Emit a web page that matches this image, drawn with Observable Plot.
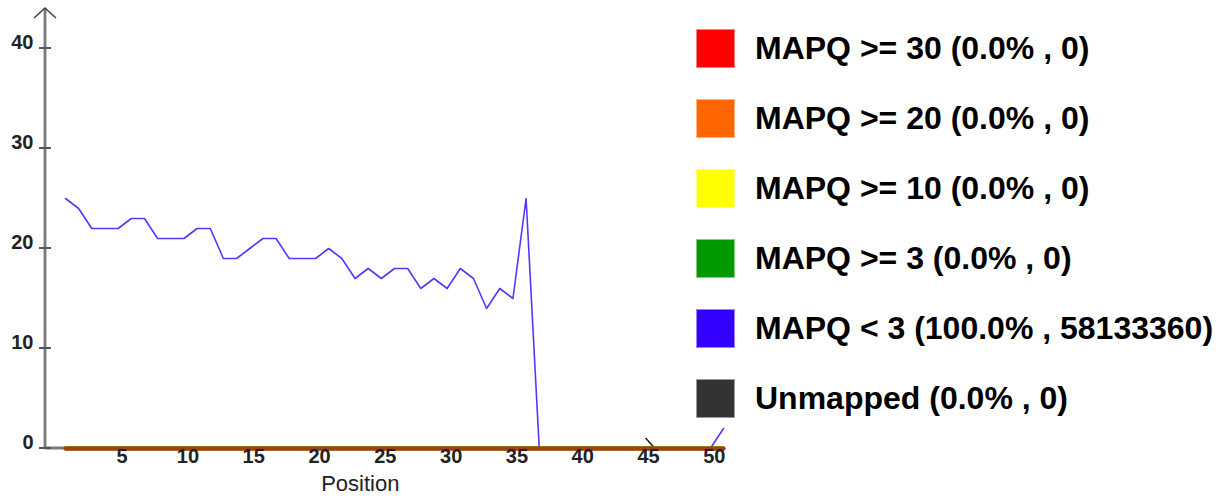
<!DOCTYPE html>
<html>
<head>
<meta charset="utf-8">
<script src="https://cdn.jsdelivr.net/npm/d3@7"></script>
<script src="https://cdn.jsdelivr.net/npm/@observablehq/plot@0.6"></script>
<style>
  html, body { margin: 0; padding: 0; background: #fff; }
  body { width: 1216px; height: 502px; position: relative; overflow: hidden; font-family: "Liberation Sans", Arial, sans-serif; }
  #chart { position: absolute; left: 0; top: 0; }
  #legend { position: absolute; left: 696px; top: 28px; }
  .row { display: flex; align-items: center; height: 40px; margin-bottom: 30px; }
  .sw { width: 39px; height: 39px; box-sizing: border-box; border: 1px solid rgba(255,255,255,0.5); margin-right: 20px; }
  .lab { font-size: 32px; font-weight: bold; color: #000; white-space: nowrap; }
</style>
</head>
<body>
<div id="chart"></div>
<div id="legend"></div>
<script>
// ---- data ----
const positions = [1,2,3,4,5,6,7,8,9,10,11,12,13,14,15,16,17,18,19,20,21,22,23,24,25,26,27,28,29,30,31,32,33,34,35,36,37,38,39,40,41,42,43,44,45,46,47,48,49,50,51];
const mapqLt3   = [25,24,22,22,22,23,23,21,21,21,22,22,19,19,20,21,21,19,19,19,20,19,17,18,17,18,18,16,17,16,18,17,14,16,15,25,0,0,0,0,0,0,0,0,0,0,0,0,0,0,2];
const mapqGe30  = [0,0,0,0,0,0,0,0,0,0,0,0,0,0,0,0,0,0,0,0,0,0,0,0,0,0,0,0,0,0,0,0,0,0,0,0,0,0,0,0,0,0,0,0,0,0,0,0,0,0,0];
const mapqGe20  = [0,0,0,0,0,0,0,0,0,0,0,0,0,0,0,0,0,0,0,0,0,0,0,0,0,0,0,0,0,0,0,0,0,0,0,0,0,0,0,0,0,0,0,0,0,0,0,0,0,0,0];
const mapqGe10  = [0,0,0,0,0,0,0,0,0,0,0,0,0,0,0,0,0,0,0,0,0,0,0,0,0,0,0,0,0,0,0,0,0,0,0,0,0,0,0,0,0,0,0,0,0,0,0,0,0,0,0];
const mapqGe3   = [0,0,0,0,0,0,0,0,0,0,0,0,0,0,0,0,0,0,0,0,0,0,0,0,0,0,0,0,0,0,0,0,0,0,0,0,0,0,0,0,0,0,0,0,0,0,0,0,0,0,0];
const unmapped  = [0,0,0,0,0,0,0,0,0,0,0,0,0,0,0,0,0,0,0,0,0,0,0,0,0,0,0,0,0,0,0,0,0,0,0,0,0,0,0,0,0,0,0,0,0,0,0,0,0,0,0];

const xTicks = [5,10,15,20,25,30,35,40,45,50];
const yTicks = [0,10,20,30,40];
const xAxisEnd = 45.8;   // where the drawn x-axis arrow sits
const xLabel = "Position";

const legendLabels = [
  "MAPQ >= 30 (0.0% , 0)",
  "MAPQ >= 20 (0.0% , 0)",
  "MAPQ >= 10 (0.0% , 0)",
  "MAPQ >= 3 (0.0% , 0)",
  "MAPQ < 3 (100.0% , 58133360)",
  "Unmapped (0.0% , 0)"
];
const legendColors = ["#ff0000", "#ff6600", "#ffff00", "#009900", "#3300ff", "#333333"];

// ---- tables ----
const series = (vals) => positions.map((p, i) => ({pos: p, v: vals[i]}));
const font = {fontFamily: "'Liberation Sans', Arial, sans-serif"};

// axis decorations drawn from the scales/dimensions
function axisDecor(index, scales, values, dims) {
  const g = d3.create("svg:g");
  const x0 = dims.marginLeft, yTop = dims.marginTop, yBot = dims.height - dims.marginBottom;
  g.append("line").attr("x1", x0).attr("x2", x0).attr("y1", yTop).attr("y2", yBot)
    .attr("stroke", "#7a7a7a").attr("stroke-width", 2.8);
  g.append("line").attr("x1", x0).attr("x2", scales.x(xAxisEnd)).attr("y1", yBot).attr("y2", yBot)
    .attr("stroke", "#7a7a7a").attr("stroke-width", 2.8);
  g.append("path").attr("d", `M${x0 - 11},${yTop + 10}L${x0},${yTop}L${x0 + 11},${yTop + 10}`)
    .attr("fill", "none").attr("stroke", "#444").attr("stroke-width", 1.6);
  const xa = scales.x(xAxisEnd);
  g.append("path").attr("d", `M${xa - 9},${yBot - 10}L${xa},${yBot}`)
    .attr("fill", "none").attr("stroke", "#222").attr("stroke-width", 1.6);
  for (const t of yTicks) {
    const y = scales.y(t);
    g.append("line").attr("x1", x0 - 6).attr("x2", x0 + 6).attr("y1", y).attr("y2", y)
      .attr("stroke", "#555").attr("stroke-width", 2);
  }
  return g.node();
}

const chart = Plot.plot({
  width: 1216,
  height: 502,
  marginLeft: 45,
  marginRight: 493,
  marginTop: 8,
  marginBottom: 54,
  style: {background: "transparent", ...font},
  x: {type: "linear", domain: [1, 51], insetLeft: 20, axis: null},
  y: {domain: [0, 40], insetTop: 40, axis: null},
  marks: [
    axisDecor,
    Plot.line(series(mapqLt3), {x: "pos", y: "v", stroke: "#3300ff", strokeWidth: 1.6, strokeOpacity: 0.8}),
    Plot.line(series(mapqGe10), {x: "pos", y: "v", stroke: "#ffff00", strokeWidth: 4}),
    Plot.line(series(mapqGe3), {x: "pos", y: "v", stroke: "#009900", strokeWidth: 4}),
    Plot.line(series(mapqGe20), {x: "pos", y: "v", stroke: "#ff6600", strokeWidth: 4}),
    Plot.line(series(mapqGe30), {x: "pos", y: "v", stroke: "#ff0000", strokeWidth: 4, strokeOpacity: 0.3}),
    Plot.line(series(unmapped), {x: "pos", y: "v", stroke: "#333333", strokeWidth: 4, strokeOpacity: 0.45}),
    Plot.text(yTicks, {y: d => d, text: d => String(d), frameAnchor: "left", textAnchor: "end",
      dx: -12, dy: -6, fontSize: 20, fontWeight: "bold", fill: "#222"}),
    Plot.text(xTicks, {x: d => d, text: d => String(d), frameAnchor: "bottom",
      dx: 4, dy: 14, fontSize: 20, fontWeight: "bold", fill: "#222"}),
    Plot.text([xLabel], {x: (1 + xAxisEnd) / 2, text: d => d, frameAnchor: "bottom",
      dy: 42, fontSize: 22, fill: "#222"})
  ]
});
document.getElementById("chart").appendChild(chart);

const legend = d3.select("#legend");
legendLabels.forEach((lab, i) => {
  const row = legend.append("div").attr("class", "row");
  row.append("div").attr("class", "sw").style("background", legendColors[i]);
  row.append("div").attr("class", "lab").text(lab);
});
</script>
</body>
</html>
